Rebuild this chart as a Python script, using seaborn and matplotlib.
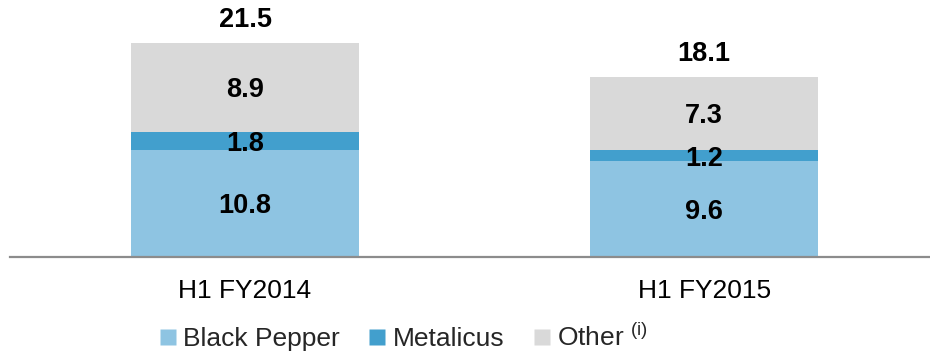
import matplotlib
matplotlib.use("Agg")
import matplotlib.pyplot as plt
import seaborn as sns
import pandas as pd
from matplotlib.lines import Line2D

periods = ["H1 FY2014", "H1 FY2015"]
black_pepper = [10.8, 9.6]
metalicus = [1.8, 1.2]
other = [8.9, 7.3]
totals = [21.5, 18.1]
series_names = ["Black Pepper", "Metalicus", "Other"]
colors = ["#8EC4E2", "#429FCD", "#D9D9D9"]

sns.set_theme(style="white")
plt.rcParams["font.family"] = ["Liberation Sans", "DejaVu Sans"]
plt.rcParams["mathtext.fontset"] = "custom"
plt.rcParams["mathtext.rm"] = "Liberation Sans"

df = pd.DataFrame({"period": periods, "bp": black_pepper, "met": metalicus, "oth": other})
df["cum_met"] = df["bp"] + df["met"]
df["cum_oth"] = df["cum_met"] + df["oth"]

fig = plt.figure(figsize=(9.3, 3.53), dpi=100)
ax = fig.add_axes([10 / 930, 96 / 353, 920 / 930, 257 / 353])

w = 0.497
sns.barplot(data=df, x="period", y="cum_oth", color=colors[2], width=w, ax=ax,
            saturation=1, edgecolor="none", linewidth=0)
sns.barplot(data=df, x="period", y="cum_met", color=colors[1], width=w, ax=ax,
            saturation=1, edgecolor="none", linewidth=0)
sns.barplot(data=df, x="period", y="bp", color=colors[0], width=w, ax=ax,
            saturation=1, edgecolor="none", linewidth=0)

ax.set_xlim(-0.512, 1.492)
ax.set_ylim(0, 25.83)

for i in range(len(periods)):
    b, m, o, t = black_pepper[i], metalicus[i], other[i], totals[i]
    kw = dict(ha="center", va="center_baseline", fontsize=19.5, fontweight="bold", color="black")
    ax.text(i, b / 2, f"{b:.1f}", **kw)
    ax.text(i, b + m / 2, f"{m:.1f}", **kw)
    ax.text(i, b + m + o / 2, f"{o:.1f}", **kw)
    ax.annotate(f"{t:.1f}", xy=(i, t), xytext=(0, 26), textcoords="offset pixels", **kw)

for s in ["top", "right", "left"]:
    ax.spines[s].set_visible(False)
ax.spines["bottom"].set_color("#8C8C8C")
ax.spines["bottom"].set_linewidth(1.6)
ax.set_yticks([])
ax.set_xlabel("")
ax.set_ylabel("")
ax.tick_params(axis="x", length=0, pad=16, labelsize=19, colors="black")

labels = ["Black Pepper", "Metalicus", r"Other $^{\mathregular{(i)}}$"]
handles = [Line2D([], [], marker="s", linestyle="none", markersize=11,
                  markerfacecolor=c, markeredgecolor="none") for c in colors]
fig.legend(handles, labels, loc="center", bbox_to_anchor=(404 / 930, 1 - 337 / 353),
           ncol=3, frameon=False, fontsize=19, handlelength=0.6, handletextpad=0.3,
           columnspacing=1.1, borderaxespad=0, borderpad=0)

fig.savefig("out.png", dpi=100)
